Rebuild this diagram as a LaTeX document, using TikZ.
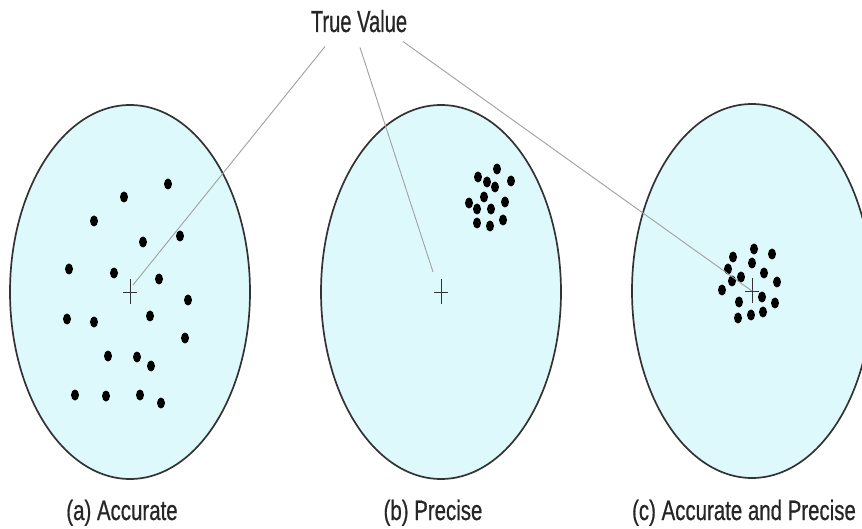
\documentclass[tikz,border=0pt]{standalone}
\usepackage{fontspec}
\setmainfont{Liberation Sans}
\newfontfamily\titlefont{Liberation Sans}[FakeStretch=0.66,FakeBold=0.6]
\newfontfamily\labelfont{Liberation Sans}[FakeStretch=0.73,FakeBold=0.6]
\usepackage{tikz}
\usetikzlibrary{calc}
\usetikzlibrary{math}

\definecolor{targetfill}{HTML}{DDF9FC}
\definecolor{targetline}{HTML}{333333}
\definecolor{pointer}{HTML}{A0A0A0}

\tikzset{
  target/.style={draw=targetline, fill=targetfill, line width=1.7pt},
  pointerline/.style={draw=pointer, line width=0.9pt},
  crossline/.style={draw=targetline, line width=0.8pt},
  caption/.style={anchor=base, inner sep=0pt, text=black!85, font=\labelfont\fontsize{28}{30}\selectfont},
}

\begin{document}
\begin{tikzpicture}[x=1pt,y=-1pt]

  \tikzmath{
    \rx   = 120;  % half width of a target
    \ry   = 187;  % half height of a target
    \dotx = 4;    % half width of a hit
    \doty = 5.5;  % half height of a hit
    \crw  = 7;    % half width of the cross
    \crh  = 12.5; % half height of the cross
  }

  \useasboundingbox (0,0) rectangle (862,529);
  \fill[white] (0,0) rectangle (862,529);
  \clip (0,0) rectangle (862,529);

  % centres of the three targets
  \coordinate (ca) at (130,292);
  \coordinate (cb) at (441,292);
  \coordinate (cc) at (752,291);

  % the targets
  \foreach \c in {ca,cb,cc}{
    \draw[target] (\c) ellipse [x radius=\rx, y radius=\ry];
    \draw[crossline] ($ (\c) + (-\crw,0) $) -- ($ (\c) + (\crw,0) $);
    \draw[crossline] ($ (\c) + (0,-\crh) $) -- ($ (\c) + (0,\crh) $);
  }

  % hits, (a) accurate
  \foreach \x/\y in {168/184, 124/197, 94/221, 143/242, 180/236, 69/269,
                     114/273, 159/279, 188/300, 67/319, 94/322, 150/316,
                     185/338, 108/356, 137/357, 151/366, 75/395, 106/396,
                     140/395, 161/403}
    \fill (\x,\y) ellipse [x radius=\dotx, y radius=\doty];

  % hits, (b) precise
  \foreach \x/\y in {497/169, 478/177, 487/182, 511/181, 495/187, 484/197,
                     505/202, 469/203, 491/209, 477/209, 477/223, 490/226,
                     503/220}
    \fill (\x,\y) ellipse [x radius=\dotx, y radius=\doty];

  % hits, (c) accurate and precise
  \foreach \x/\y in {754/249, 733/257, 772/254, 752/263, 728/269, 764/273,
                     741/277, 732/281, 777/282, 722/290, 762/297, 739/302,
                     775/303, 738/318, 751/315, 763/312}
    \fill (\x,\y) ellipse [x radius=\dotx, y radius=\doty];

  % true value and its pointers
  \node[anchor=base, inner sep=0pt, text=black!85, font=\titlefont\fontsize{30.5}{32}\selectfont]
    (tv) at (359,32) {True Value};

  \draw[pointerline] ($ (tv.south) + (-34,14) $) -- ($ (ca) + (3,-7) $);
  \draw[pointerline] ($ (tv.south) + (1,15) $) -- ($ (cb) + (-8,-20) $);
  \draw[pointerline] ($ (tv.south) + (44,9) $) -- (cc);

  % captions
  \node[caption] (la) at (122,520) {(a) Accurate};
  \node[caption] (lb) at (433,520) {(b) Precise};
  \node[caption] (lc) at (744,520) {(c) Accurate and Precise};

\end{tikzpicture}
\end{document}
